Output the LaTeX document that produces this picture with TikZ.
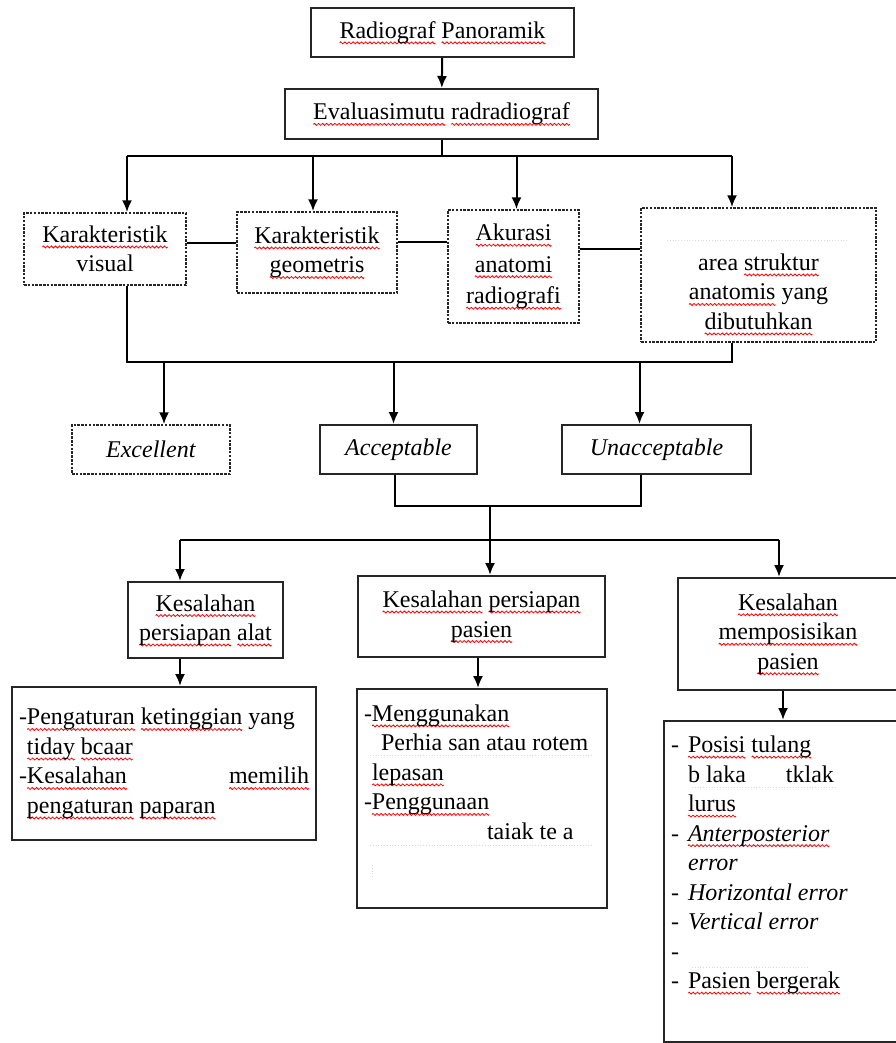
\documentclass[tikz,border=0pt]{standalone}
\usepackage{fontspec}
\setmainfont{Liberation Serif}
\usepackage{tikz}
\usetikzlibrary{arrows.meta}

\newsavebox\wavebox
\newcommand\sq[1]{\leavevmode\setbox0\hbox{#1}\rlap{\raisebox{-4.5pt}[0pt][0pt]{\hbox to \wd0{\xleaders\copy\wavebox\hfil}}}\box0\relax}

\tikzset{
  box/.style={draw=black!85, line width=2pt, inner sep=6pt, align=center, font=\fontsize{24}{29.5}\selectfont},
  dbox/.style={box, line width=1.5pt, dash pattern=on 2.5pt off 1.3pt},
  detail/.style={box, align=flush left, inner sep=7pt, font=\fontsize{24}{29.5}\selectfont},
  link/.style={line width=2pt},
  arr/.style={link, -{Latex[length=12pt,width=10pt]}},
  faint/.style={gray!30, line width=0.8pt, dotted}
}

\begin{document}
\sbox\wavebox{\pgfpicture
  \pgfsetlinewidth{0.8pt}\pgfsetstrokecolor{red}
  \pgfpathmoveto{\pgfpoint{0pt}{0pt}}
  \pgfpathlineto{\pgfpoint{1pt}{1pt}}
  \pgfpathlineto{\pgfpoint{3pt}{-1pt}}
  \pgfpathlineto{\pgfpoint{4pt}{0pt}}
  \pgfusepath{stroke}
  \pgfresetboundingbox
  \pgfpathrectangle{\pgfpoint{0pt}{-1pt}}{\pgfpoint{4pt}{2pt}}
  \pgfusepath{use as bounding box}
  \pgfsetbaseline{0pt}
\endpgfpicture}%
\begin{tikzpicture}[x=1pt, y=-1pt]
    \useasboundingbox (0,0) rectangle (895,1043);

    \node[box, minimum width=263pt, minimum height=49pt] (rp) at (442.5,32.5) {\sq{Radiograf} \sq{Panoramik}};
    \node[box, minimum width=313pt, minimum height=50pt] (ev) at (441.5,114) {\sq{Evaluasimutu} \sq{radradiograf}};

    \node[dbox, minimum width=162pt, minimum height=72pt] (kv) at (105,249) {\sq{Karakteristik}\\visual};
    \node[dbox, minimum width=160pt, minimum height=81pt] (kg) at (317,252.5) {\sq{Karakteristik}\\\sq{geometris}};
    \node[dbox, minimum width=131pt, minimum height=113pt, font=\fontsize{24}{31.5}\selectfont] (ak) at (513.5,266.5) {\sq{Akurasi}\\\sq{anatomi}\\\sq{radiografi}};
    \node[dbox, minimum width=235pt, minimum height=134pt] (ar) at (758.5,275) {\strut\\area \sq{struktur}\\\sq{anatomis} yang\\\sq{dibutuhkan}};

    \node[dbox, minimum width=158pt, minimum height=49pt] (ex) at (151,449.5) {\textit{Excellent}};
    \node[box, minimum width=157pt, minimum height=49pt] (ac) at (398.5,449.5) {\textit{Acceptable}};
    \node[box, minimum width=189pt, minimum height=49pt] (un) at (656.5,449.5) {\textit{Unacceptable}};

    \node[box, minimum width=155pt, minimum height=76pt] (al) at (205.5,620) {\sq{Kesalahan}\\\sq{persiapan} \sq{alat}};
    \node[box, minimum width=247pt, minimum height=81pt] (pp) at (481.5,616.5) {\sq{Kesalahan} \sq{persiapan}\\\sq{pasien}};
    \node[box, minimum width=220pt, minimum height=112pt] (mp) at (788,634) {\sq{Kesalahan}\\\sq{memposisikan}\\\sq{pasien}};

    \node[detail, text width=290pt, minimum height=153pt] (da) at (164,763.5) {-\sq{Pengaturan} \sq{ketinggian} yang\\
      \hspace*{8pt}\sq{tiday} \sq{bcaar}\\
      -\sq{Kesalahan}\hfill\sq{memilih}\\
      \hspace*{8pt}\sq{pengaturan} \sq{paparan}};
    \node[detail, text width=236pt, minimum height=219pt] (dp) at (482,798.5) {-\sq{Menggunakan}\\
      \hspace*{17pt}Perhia san atau rotem\\
      \hspace*{8pt}\sq{lepasan}\\
      -\sq{Penggunaan}\\
      \hspace*{123pt}taiak te a\\
      \strut\\[-15pt] \strut};
    \node[detail, text width=222pt, minimum height=321pt] (dm) at (782,881.5) {-\hspace*{9pt}\sq{Posisi} \sq{tulang}\\
      \hspace*{17pt}b laka\hspace*{40pt}tklak\\
      \hspace*{17pt}\sq{lurus}\\
      -\hspace*{9pt}\textit{\sq{Anterposterior}}\\
      \hspace*{17pt}\textit{error}\\
      -\hspace*{9pt}\textit{Horizontal error}\\
      -\hspace*{9pt}\textit{Vertical error}\\
      -\\
      -\hspace*{9pt}\sq{Pasien} \sq{bergerak}\\
      \strut};

    \coordinate (t1) at (127,156);
    \coordinate (t2) at (732,156);
    \coordinate (m1) at (127,362);
    \coordinate (m2) at (732,362);
    \coordinate (j1) at (490,506);
    \coordinate (b1) at (180,540);
    \coordinate (b2) at (779,540);

    \draw[arr] (rp) -- (ev);
    \draw[link] (ev.south) -- (ev.south |- t1);
    \draw[link] (t1) -- (t2);
    \draw[arr] (t1) -- (t1 |- kv.north);
    \draw[arr] ([xshift=-4pt]kg.north |- t1) -- ([xshift=-4pt]kg.north);
    \draw[arr] ([xshift=3pt]ak.north |- t1) -- ([xshift=3pt]ak.north);
    \draw[arr] (t2) -- (t2 |- ar.north);

    \draw[link] ([yshift=6pt]kv.east) -- ([yshift=6pt]kv.east -| kg.west);
    \draw[link] ([yshift=11pt]kg.east) -- ([yshift=11pt]kg.east -| ak.west);
    \draw[link] ([yshift=18pt]ak.east) -- ([yshift=18pt]ak.east -| ar.west);

    \draw[link] (t1 |- kv.south) -- (m1) -- (m2) -- (t2 |- ar.south);
    \draw[arr] ([xshift=13pt]ex.north |- m1) -- ([xshift=13pt]ex.north);
    \draw[arr] ([xshift=-5pt]ac.north |- m1) -- ([xshift=-5pt]ac.north);
    \draw[arr] ([xshift=-17pt]un.north |- m1) -- ([xshift=-17pt]un.north);

    \draw[link] ([xshift=-4pt]ac.south) |- (j1) -| ([xshift=-16pt]un.south);
    \draw[link] (j1) -- (j1 |- b1);
    \draw[link] (b1) -- (b2);
    \draw[arr] (b1) -- (b1 |- al.north);
    \draw[arr] (j1 |- b1) -- (j1 |- pp.north);
    \draw[arr] (b2) -- (b2 |- mp.north);

    \draw[arr] (b1 |- al.south) -- (b1 |- da.north);
    \draw[arr] ([xshift=-3.5pt]pp.south) -- ([xshift=-3.5pt]pp.south |- dp.north);
    \draw[arr] ([xshift=-5pt]mp.south) -- ([xshift=-5pt]mp.south |- dm.north);

    % faint marks left in the scan
    \draw[faint] (667,240) -- (847,240);
    \draw[faint] (370,755) -- (592,755);
    \draw[faint] (370,845) -- (592,845);
    \draw[faint] (372,865) -- (372,877);
    \draw[faint] (692,787) -- (837,787);
    \draw[faint] (692,967) -- (807,967);
\end{tikzpicture}
\end{document}
